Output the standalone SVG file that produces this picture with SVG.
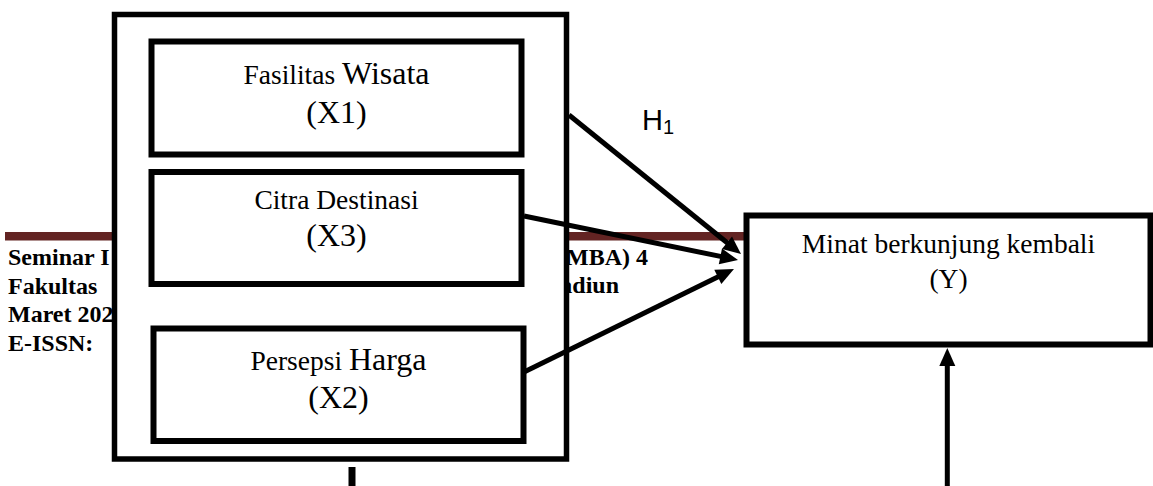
<svg xmlns="http://www.w3.org/2000/svg" width="1153" height="486" viewBox="0 0 1153 486">
<style>
.hdr{font-family:"Liberation Serif","Times New Roman",serif;font-weight:bold;font-size:24px;fill:#000}
.box{fill:#fff;stroke:#000;stroke-width:6}
.lbl{font-family:"Liberation Serif","Times New Roman",serif;fill:#000;text-anchor:middle}
.s{font-size:27.5px}
.b{font-size:32px}
.con{stroke:#000;stroke-width:5;fill:none}
</style>
<defs>
<marker id="ah" markerUnits="userSpaceOnUse" markerWidth="18" markerHeight="16" refX="5" refY="8" orient="auto" overflow="visible">
<path d="M0,0 L18,8 L0,16 Z" fill="#000"/>
</marker>
</defs>
<rect width="1153" height="486" fill="#fff"/>
<g id="header">
<rect x="5" y="232" width="741" height="8.5" fill="#632423"/>
<text class="hdr" x="8" y="265">Seminar I</text>
<text class="hdr" x="8" y="294">Fakultas</text>
<text class="hdr" x="8" y="322">Maret 202</text>
<text class="hdr" x="8" y="351">E-ISSN:</text>
<text class="hdr" x="648" y="265" text-anchor="end">MBA) 4</text>
<text class="hdr" x="619" y="293" text-anchor="end">adiun</text>
</g>
<g id="group-x">
<rect x="114.5" y="14.5" width="452" height="444.5" fill="#fff" stroke="#000" stroke-width="5.5"/>
</g>
<g id="x1">
<rect class="box" x="151.5" y="41.5" width="370" height="113"/>
<text class="lbl" x="336.5" y="84"><tspan class="s">Fasilitas </tspan><tspan class="b">Wisata</tspan></text>
<text class="lbl b" x="336.5" y="123">(X1)</text>
</g>
<g id="x3">
<rect class="box" x="151.5" y="172" width="370" height="112"/>
<text class="lbl s" x="336.5" y="209">Citra Destinasi</text>
<text class="lbl b" x="336.5" y="246">(X3)</text>
</g>
<g id="x2">
<rect class="box" x="153.5" y="328.5" width="370" height="112.5"/>
<text class="lbl" x="338.5" y="370"><tspan class="s">Persepsi </tspan><tspan class="b">Harga</tspan></text>
<text class="lbl b" x="338.5" y="408">(X2)</text>
</g>
<g id="y">
<rect class="box" x="746.5" y="215.5" width="404" height="129"/>
<text class="lbl s" x="948.5" y="253">Minat berkunjung kembali</text>
<text class="lbl s" x="948.5" y="288">(Y)</text>
</g>
<g id="h1">
<text x="642" y="129.5" font-family="'Liberation Sans',Arial,sans-serif" font-size="29" fill="#000">H<tspan font-size="20" dy="4">1</tspan></text>
</g>
<g id="connectors">
<line class="con" x1="569" y1="115" x2="730.9" y2="245.8" marker-end="url(#ah)"/>
<line class="con" x1="524" y1="216" x2="725.3" y2="257.4" marker-end="url(#ah)"/>
<line class="con" x1="522" y1="373" x2="722.3" y2="274.7" marker-end="url(#ah)"/>
<line class="con" x1="947.3" y1="486" x2="947.3" y2="361" marker-end="url(#ah)"/>
<line x1="352" y1="467" x2="352" y2="486" stroke="#000" stroke-width="7"/>
</g>
</svg>
